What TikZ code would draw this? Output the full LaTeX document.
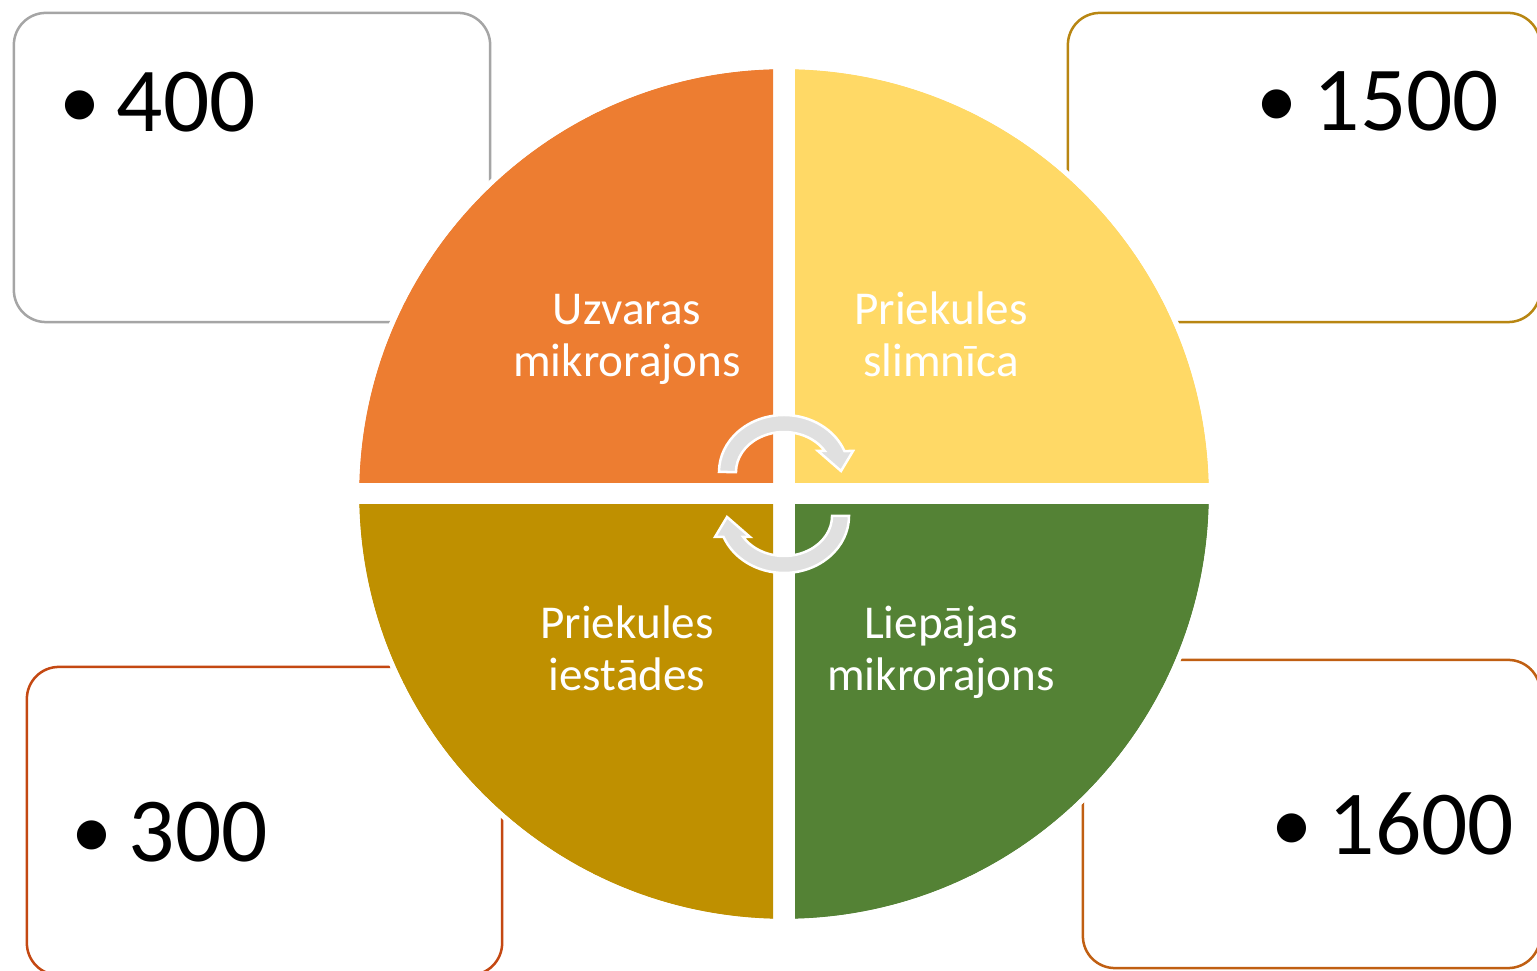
\documentclass[tikz,border=0pt]{standalone}
\usepackage{fontspec}
\setmainfont{Carlito}
\definecolor{qorange}{RGB}{237,125,49}
\definecolor{qyellow}{RGB}{255,217,102}
\definecolor{qgold}{RGB}{191,144,0}
\definecolor{qgreen}{RGB}{84,130,53}
\definecolor{bgray}{RGB}{165,165,165}
\definecolor{bgold}{RGB}{184,134,18}
\definecolor{bred}{RGB}{196,72,18}
\definecolor{bbrown}{RGB}{192,95,18}
\definecolor{arrowgray}{RGB}{224,224,224}
\tikzset{
  box/.style={rectangle, rounded corners=0.32cm, line width=0.025cm, fill=white, inner sep=0pt},
  bignum/.style={anchor=base west, inner sep=0pt, font=\fontsize{26}{32}\selectfont},
  qlabel/.style={anchor=base, inner sep=0pt, align=center, text=white, font=\fontsize{13.4}{14.8}\selectfont},
  sector/.style={draw=white, line width=0.05cm},
  cyclearrow/.style={fill=arrowgray, draw=white, line width=0.025cm, line join=miter}
}
\newcommand{\bul}{\makebox[0.57cm][l]{\raisebox{0.03cm}{\scalebox{0.9}{•}}}}
\begin{document}
\begin{tikzpicture}[x=0.01cm,y=0.01cm]
\useasboundingbox (0,0) rectangle (1537,970);
\clip (0,0) rectangle (1537,970);
% boxes
\node[box, draw=bgray, minimum width=4.76cm, minimum height=3.09cm] (boxtl) at (252,802.5) {};
\node[box, draw=bgold, minimum width=4.72cm, minimum height=3.09cm] (boxtr) at (1304,802.5) {};
\node[box, draw=bred, minimum width=4.75cm, minimum height=3.08cm] (boxbl) at (264.5,149) {};
\node[box, draw=bbrown, minimum width=4.57cm, minimum height=3.08cm] (boxbr) at (1311.5,156) {};
% box texts
\node[bignum] (t400) at (59,838) {\bul 400};
\node[bignum] (t1500) at (1256,839) {\bul 1500};
\node[bignum] (t300) at (71,108) {\bul 300};
\node[bignum] (t1600) at (1271,115) {\bul 1600};
% circle sectors
\coordinate (cc) at (784,476);
\begin{scope}
  \clip (0,487) rectangle (773,970);
  \fill[sector, fill=qorange] (cc) circle (427.5);
\end{scope}
\begin{scope}
  \clip (795,487) rectangle (1537,970);
  \fill[sector, fill=qyellow] (cc) circle (427.5);
\end{scope}
\begin{scope}
  \clip (0,0) rectangle (773,465);
  \fill[sector, fill=qgold] (cc) circle (427.5);
\end{scope}
\begin{scope}
  \clip (795,0) rectangle (1537,465);
  \fill[sector, fill=qgreen] (cc) circle (427.5);
\end{scope}
\draw[sector] (cc) circle (427.5);
% labels (anchor base = last line)
\node[qlabel] (luz) at (627,593) {Uzvaras\\mikrorajons};
\node[qlabel] (lps) at (941,593) {Priekules\\slimnīca};
\node[qlabel] (lpi) at (627,279) {Priekules\\iestādes};
\node[qlabel] (llm) at (941,279) {Liepājas\\mikrorajons};
% cycle arrows
\foreach \r in {0,180}{
\begin{scope}[rotate around={\r:(784,476)}]
  \draw[cyclearrow] (719,498) arc[start angle=180, end angle=21.6, x radius=65, y radius=57]
    -- (853,519) -- (841,499) -- (818,519) -- (824.8,519)
    arc[start angle=31.7, end angle=180, x radius=48, y radius=40] -- cycle;
\end{scope}
}
\end{tikzpicture}
\end{document}
